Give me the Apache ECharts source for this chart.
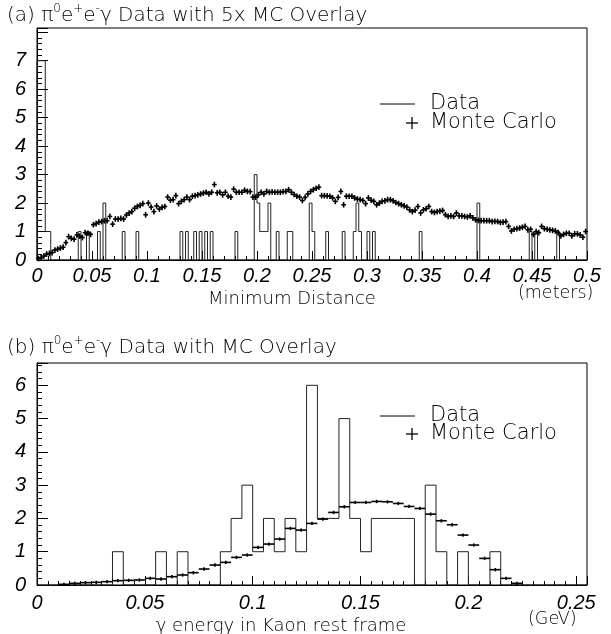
<!DOCTYPE html>
<html><head><meta charset="utf-8">
<script src="https://cdn.jsdelivr.net/npm/echarts@6/dist/echarts.min.js"></script>
<style>html,body{margin:0;padding:0;background:#fff}#c{width:611px;height:634px}</style>
</head><body><div id="c"></div>
<script>
// ---------- Panel (a): Minimum Distance, 200 bins of 0.0025 m ----------
const topBinWidth = 0.0025;
const topData = [
  7,7,7,1,1,0,0,0,0,0, 0,0,0,0,0,1,0,0,1,0,
  0,0,1,0,2,0,0,0,0,0, 0,1,0,0,0,0,1,0,0,0,
  0,0,0,0,0,0,0,0,0,0, 0,0,1,0,1,0,0,1,0,1,
  0,1,0,1,0,0,0,0,0,0, 0,0,1,0,0,0,0,0,0,3,
  2,1,1,1,2,0,0,1,0,0, 0,1,1,0,0,0,0,0,0,2,
  1,0,0,0,0,1,0,0,0,0, 0,1,0,0,0,1,2,1,0,0,
  1,0,1,0,0,0,0,0,0,0, 0,0,0,0,0,0,0,0,0,1,
  0,0,0,0,0,0,0,0,0,0, 0,0,0,0,0,0,0,0,0,0,
  2,0,0,0,0,0,0,0,0,0, 0,0,0,0,0,0,0,0,0,1,
  0,1,0,0,0,0,0,0,0,1, 0,0,0,0,0,0,0,0,0,0
];
const topMC = [
  0.05,0.08,0.14,0.21,0.23,0.26,0.35,0.38,0.42,0.45, 0.61,0.82,0.76,0.73,0.88,0.84,0.79,0.96,0.94,0.90,
  1.24,1.28,1.33,1.35,1.38,1.38,1.53,1.26,1.44,1.44, 1.46,1.44,1.58,1.65,1.70,1.82,1.88,1.92,1.98,1.59,
  2.00,1.86,1.70,1.90,1.79,1.85,1.88,2.21,2.10,2.12, 2.26,1.98,2.06,2.12,2.21,2.12,2.24,2.26,2.29,2.32,
  2.35,2.38,2.32,2.38,2.65,2.36,2.38,2.29,2.38,2.24, 2.21,2.49,2.38,2.38,2.38,2.45,2.41,2.40,2.21,2.21,
  2.29,2.38,2.32,2.41,2.38,2.39,2.38,2.38,2.38,2.40, 2.41,2.47,2.38,2.30,2.24,2.21,2.09,2.20,2.32,2.41,
  2.47,2.52,2.56,2.26,2.26,2.25,2.24,2.18,2.06,2.20, 2.41,1.94,2.24,2.24,2.24,2.18,2.14,2.12,2.09,1.98,
  2.18,2.10,2.06,1.94,2.00,2.06,2.08,2.12,2.12,2.08, 2.02,1.98,1.94,1.90,1.86,1.76,1.70,1.75,1.88,1.65,
  1.76,1.80,1.88,1.70,1.67,1.70,1.72,1.74,1.59,1.53, 1.55,1.53,1.65,1.55,1.55,1.53,1.51,1.55,1.48,1.41,
  1.39,1.38,1.38,1.38,1.38,1.35,1.36,1.35,1.32,1.33, 1.35,1.18,1.02,1.08,1.10,1.12,1.15,1.18,1.06,1.08,
  0.90,1.00,0.96,1.18,1.10,1.08,1.06,1.04,1.02,0.96, 0.85,0.90,0.94,0.94,0.85,0.92,0.92,0.88,0.80,1.00
];
const topXTickLabels = ['0','0.05','0.1','0.15','0.2','0.25','0.3','0.35','0.4','0.45','0.5'];
const topYTickLabels = ['0','1','2','3','4','5','6','7'];

// ---------- Panel (b): gamma energy, 51 bins of 0.005 GeV ----------
const botBinWidth = 0.005;
const botData = [
  0,0,0,0,0,0,0,1,0,0,
  0,1,0,1,0,0,0,1,2,3,
  1,2,1,2,1,6,2,2,5,2,
  1,2,2,2,2,0,3,1,0,1,
  0,0,1,0,0,0,0,0,0,0,0
];
const botMC = [
  0,0,0.02,0.05,0.07,0.08,0.10,0.13,0.14,0.15,
  0.20,0.18,0.25,0.30,0.37,0.48,0.60,0.68,0.83,0.90,
  1.13,1.23,1.38,1.70,1.65,1.85,1.98,2.18,2.35,2.48,
  2.48,2.51,2.50,2.45,2.36,2.30,2.13,1.93,1.81,1.50,
  1.20,0.80,0.46,0.20,0.05,0,0,0,0,0,0
];
const botXTickLabels = ['0','0.05','0.1','0.15','0.2','0.25'];
const botYTickLabels = ['0','1','2','3','4','5','6'];

// ---------- helpers ----------
function stepPoints(counts, bw) {
  const pts = [[0, 0]];
  counts.forEach((v, i) => pts.push([i * bw, v]));
  pts.push([counts.length * bw, 0]);
  return pts;
}
function centerPoints(vals, bw) {
  const pts = [];
  vals.forEach((v, i) => { if (v > 0) pts.push([(i + 0.5) * bw, v]); });
  return pts;
}
function crossRenderer(halfW, halfErr, lw) {
  return function (params, api) {
    const x = api.value(0), y = api.value(1);
    const l = api.coord([x - halfW, y]);
    const r = api.coord([x + halfW, y]);
    const t = api.coord([x, y + halfErr]);
    const b = api.coord([x, y - halfErr]);
    return { type: 'group', children: [
      { type: 'line', shape: { x1: l[0], y1: l[1], x2: r[0], y2: r[1] }, style: { stroke: '#000', lineWidth: lw } },
      { type: 'line', shape: { x1: t[0], y1: t[1], x2: b[0], y2: b[1] }, style: { stroke: '#000', lineWidth: lw } }
    ]};
  };
}
function fmt(list) {
  return function (v) {
    const s = String(parseFloat(v.toFixed(4)));
    return list.indexOf(s) >= 0 ? s : '';
  };
}
const labelStyle = { color: '#000', fontSize: 20, fontStyle: 'italic', fontFamily: 'Liberation Sans, Arial, sans-serif' };
const thinFont = '"DejaVu Sans", Lato, sans-serif';
const thinWeight = 200;

function xAxisDef(grid, max, interval, split, labels, margin) {
  return {
    type: 'value', gridIndex: grid, min: 0, max: max, interval: interval,
    axisLine: { show: true, lineStyle: { color: '#000', width: 1 } },
    axisTick: { show: true, inside: true, length: 9, lineStyle: { color: '#000' } },
    minorTick: { show: true, splitNumber: split, length: 4, lineStyle: { color: '#000' } },
    splitLine: { show: false },
    axisLabel: Object.assign({ margin: margin, formatter: fmt(labels), showMaxLabel: true }, labelStyle)
  };
}
function yAxisDef(grid, max, labels) {
  return {
    type: 'value', gridIndex: grid, min: 0, max: max, interval: 1,
    axisLine: { show: true, lineStyle: { color: '#000', width: 1 } },
    axisTick: { show: true, inside: true, length: 11, lineStyle: { color: '#000' } },
    minorTick: { show: true, splitNumber: 5, length: 5, lineStyle: { color: '#000' } },
    splitLine: { show: false },
    axisLabel: Object.assign({ margin: 11, formatter: fmt(labels) }, labelStyle)
  };
}
function txt(x, y, s, size, align) {
  return { type: 'text', x: x, y: y, style: { text: s, fontFamily: thinFont, fontWeight: thinWeight, fontSize: size, fill: '#000', align: align || 'left', verticalAlign: 'middle' } };
}
function richTitle(x, y, s, size) {
  return { type: 'text', x: x, y: y, style: {
    text: s, fontFamily: thinFont, fontWeight: thinWeight, fontSize: size, fill: '#000', verticalAlign: 'middle',
    rich: {
      b: { fontFamily: thinFont, fontWeight: thinWeight, fontSize: size, lineHeight: 24, verticalAlign: 'bottom' },
      s: { fontFamily: thinFont, fontWeight: 300, fontSize: 12, lineHeight: 24, verticalAlign: 'top', padding: [1, 0, 0, 0] }
    }
  } };
}
function seg(x1, y1, x2, y2, w) {
  return { type: 'line', shape: { x1: x1, y1: y1, x2: x2, y2: y2 }, style: { stroke: '#000', lineWidth: w } };
}

const chart = echarts.init(document.getElementById('c'), null, { renderer: 'canvas' });
chart.setOption({
  animation: false,
  backgroundColor: '#fff',
  grid: [
    { left: 37, top: 28, width: 550, height: 232, show: true, borderColor: '#000', borderWidth: 1, backgroundColor: 'transparent' },
    { left: 37, top: 363, width: 550, height: 222, show: true, borderColor: '#000', borderWidth: 1, backgroundColor: 'transparent' }
  ],
  xAxis: [
    xAxisDef(0, 0.5, 0.05, 5, topXTickLabels, 6),
    xAxisDef(1, 0.255, 0.05, 10, botXTickLabels, 8)
  ],
  yAxis: [
    yAxisDef(0, 8.15, topYTickLabels),
    yAxisDef(1, 6.67, botYTickLabels)
  ],
  series: [
    { name: 'Data', type: 'line', xAxisIndex: 0, yAxisIndex: 0, step: 'end', showSymbol: false,
      data: stepPoints(topData, topBinWidth), lineStyle: { color: '#222', width: 1 }, z: 3 },
    { name: 'Monte Carlo', type: 'custom', xAxisIndex: 0, yAxisIndex: 0,
      renderItem: crossRenderer(topBinWidth * 0.85, 0.1, 1.6), encode: { x: 0, y: 1 },
      data: centerPoints(topMC, topBinWidth), z: 4 },
    { name: 'Data', type: 'line', xAxisIndex: 1, yAxisIndex: 1, step: 'end', showSymbol: false,
      data: stepPoints(botData, botBinWidth), lineStyle: { color: '#222', width: 1 }, z: 3 },
    { name: 'Monte Carlo', type: 'custom', xAxisIndex: 1, yAxisIndex: 1,
      renderItem: crossRenderer(botBinWidth * 0.5, 0.05, 1.6), encode: { x: 0, y: 1 },
      data: centerPoints(botMC, botBinWidth), z: 4 }
  ],
  graphic: [
    richTitle(7, 14, '{b|(a) π}{s|0}{b|e}{s|+}{b|e}{s|-}{b|γ Data with 5x MC Overlay}', 20),
    richTitle(7, 346, '{b|(b) π}{s|0}{b|e}{s|+}{b|e}{s|-}{b|γ Data with MC Overlay}', 20),
    txt(292, 299, 'Minimum Distance', 18, 'center'),
    txt(518, 293, '(meters)', 17.5),
    txt(281, 626, 'γ energy in Kaon rest frame', 18, 'center'),
    txt(528, 619, '(GeV)', 17.5),
    // legend (a)
    seg(380, 104, 415, 104, 1),
    txt(430, 104, 'Data', 21),
    seg(406, 123, 418, 123, 1.3),
    seg(412, 117, 412, 129, 1.3),
    txt(430, 123, 'Monte Carlo', 21),
    // legend (b)
    seg(380, 416, 415, 416, 1),
    txt(430, 416, 'Data', 21),
    seg(406, 434, 418, 434, 1.3),
    seg(412, 428, 412, 440, 1.3),
    txt(430, 434, 'Monte Carlo', 21)
  ]
});
</script>
</body></html>
